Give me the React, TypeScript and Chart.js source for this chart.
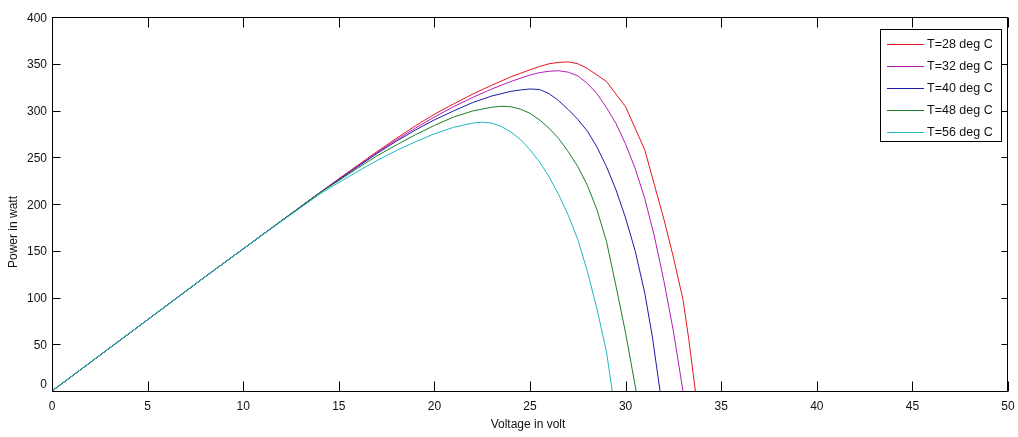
import React, { useEffect, useRef } from "react";
import { Chart, registerables } from "chart.js";

Chart.register(...registerables);

// Axis ticks
const xTicks = [0, 5, 10, 15, 20, 25, 30, 35, 40, 45, 50];
const yTicks = [0, 50, 100, 150, 200, 250, 300, 350, 400];

// P-V curves (voltage in volt, power in watt) for each cell temperature
const vT28 = [0, 2, 4, 6, 8, 10, 12, 13, 14, 15, 16, 17, 18, 19, 20, 21, 22, 23, 24, 25, 25.5, 26, 26.5, 27, 27.5, 28, 29, 30, 31, 31.5, 32, 32.5, 33, 33.3, 33.65];
const pT28 = [0, 30.5, 61, 91.5, 122, 152, 182, 197, 212, 227, 241.5, 256, 270, 283.5, 296, 307, 317.5, 327, 336, 343.5, 347, 350, 351.5, 352, 350, 345, 331, 304, 258, 221, 184, 143, 98, 56, 0];

const vT32 = [0, 2, 4, 6, 8, 10, 12, 13, 14, 15, 16, 17, 18, 19, 20, 21, 22, 23, 24, 25, 25.5, 26, 26.5, 27, 27.5, 28, 28.5, 29, 29.5, 30, 30.5, 31, 31.5, 32, 32.5, 33];
const pT32 = [0, 30.5, 61, 91.5, 122, 152, 182, 197, 212, 226.5, 241, 255, 268.5, 281, 293, 304, 314, 323, 331, 338, 340.5, 342, 342.5, 341, 337, 329, 318, 303, 286, 264, 238, 206, 166, 118, 64, 0];

const vT40 = [0, 2, 4, 6, 8, 10, 12, 13, 14, 15, 16, 17, 18, 19, 20, 21, 22, 23, 24, 24.5, 25, 25.5, 26, 26.5, 27, 27.5, 28, 28.5, 29, 29.5, 30, 30.5, 31, 31.4, 31.8];
const pT40 = [0, 30.5, 61, 91.5, 122, 152, 182, 197, 212, 226, 240, 254, 267, 279, 290, 299.5, 308.5, 315.5, 320.5, 322, 323, 322.5, 318, 310.5, 301, 290.5, 278, 261, 240, 215, 185, 150, 105, 58, 0];

const vT48 = [0, 2, 4, 6, 8, 10, 12, 13, 14, 15, 16, 17, 18, 19, 20, 21, 22, 23, 23.5, 24, 24.5, 25, 25.5, 26, 26.5, 27, 27.5, 28, 28.5, 29, 29.5, 30, 30.55];
const pT48 = [0, 30.5, 61, 91.5, 122, 152, 182, 197, 212, 225, 238.5, 251.5, 263, 274, 284, 293, 299.5, 303.5, 304.5, 304, 301.5, 297, 290, 281, 270, 256, 240, 220, 194, 160, 112, 62, 0];

const vT56 = [0, 2, 4, 6, 8, 10, 12, 13, 14, 15, 16, 17, 18, 19, 20, 21, 22, 22.5, 23, 23.5, 24, 24.5, 25, 25.5, 26, 26.5, 27, 27.5, 28, 28.5, 29, 29.3];
const pT56 = [0, 30.5, 61, 91.5, 122, 152, 181.5, 196, 210.5, 223, 235, 246.5, 257, 266.5, 275, 282, 286.5, 287.5, 286.5, 283, 277, 269, 258, 245, 229, 210, 188, 162, 128, 88, 42, 0];

const seriesLabels = ["T=28 deg C", "T=32 deg C", "T=40 deg C", "T=48 deg C", "T=56 deg C"];
const seriesColors = ["#e8141c", "#b21db8", "#1c1ca6", "#1d7d2a", "#1fb7c2"];
const seriesVolts = [vT28, vT32, vT40, vT48, vT56];
const seriesPower = [pT28, pT32, pT40, pT48, pT56];

const xTitle = "Voltage in volt";
const yTitle = "Power in watt";

const FONT = "12px 'Liberation Sans', Arial, Helvetica, sans-serif";
const LEGEND_FONT = "12.5px 'Liberation Sans', Arial, Helvetica, sans-serif";

// Boxed axes with inward ticks, labels and an inset legend
const axesPlugin = {
  id: "boxedAxes",
  afterDraw(chart: any) {
    const { ctx, chartArea: a, scales } = chart;
    const xs = scales.x;
    const ys = scales.y;
    const L = Math.round(a.left) + 0.5;
    const R = Math.round(a.right) - 0.5;
    const T = Math.round(a.top) + 0.5;
    const B = Math.round(a.bottom) + 0.5;

    ctx.save();
    ctx.strokeStyle = "#000";
    ctx.lineWidth = 1;
    ctx.beginPath();
    ctx.rect(L, T, R - L, B - T);
    ctx.stroke();

    ctx.beginPath();
    for (const v of xTicks) {
      const px = Math.round(xs.getPixelForValue(v)) + 0.5;
      ctx.moveTo(px, B);
      ctx.lineTo(px, B - 10);
      ctx.moveTo(px, T);
      ctx.lineTo(px, T + 10);
    }
    for (const v of yTicks) {
      const py = Math.round(ys.getPixelForValue(v)) + 0.5;
      ctx.moveTo(L, py);
      ctx.lineTo(L + 8, py);
      ctx.moveTo(R, py);
      ctx.lineTo(R - 6, py);
    }
    ctx.stroke();

    ctx.fillStyle = "#111";
    ctx.font = FONT;
    ctx.textBaseline = "alphabetic";

    ctx.textAlign = "center";
    for (const v of xTicks) {
      ctx.fillText(String(v), xs.getPixelForValue(v), a.bottom + 18.5);
    }

    ctx.textAlign = "right";
    for (const v of yTicks) {
      const py = ys.getPixelForValue(v);
      const base = v === 0 ? py - 3 : py + 4.5;
      ctx.fillText(String(v), a.left - 5, base);
    }

    ctx.textAlign = "center";
    ctx.fillText(xTitle, (a.left + a.right) / 2 - 2, a.bottom + 37);

    ctx.save();
    ctx.translate(17, (a.top + a.bottom) / 2 + 28);
    ctx.rotate(-Math.PI / 2);
    ctx.textAlign = "center";
    ctx.fillText(yTitle, 0, 0);
    ctx.restore();

    // Legend
    const lx = 880.5;
    const ly = 29.5;
    const lw = 121;
    const lh = 112;
    ctx.fillStyle = "#fff";
    ctx.fillRect(lx, ly, lw, lh);
    ctx.strokeStyle = "#000";
    ctx.strokeRect(lx, ly, lw, lh);
    ctx.font = LEGEND_FONT;
    ctx.textAlign = "left";
    seriesLabels.forEach((label, i) => {
      const ry = 43.5 + i * 22;
      ctx.strokeStyle = seriesColors[i];
      ctx.beginPath();
      ctx.moveTo(887, Math.round(ry) + 0.5);
      ctx.lineTo(924, Math.round(ry) + 0.5);
      ctx.stroke();
      ctx.fillStyle = "#111";
      ctx.fillText(label, 927, ry + 4.5);
    });
    ctx.restore();
  },
};

export default function App() {
  const canvasRef = useRef<HTMLCanvasElement | null>(null);

  useEffect(() => {
    const canvas = canvasRef.current;
    if (!canvas) return;
    const datasets = seriesLabels.map((label, i) => ({
      label,
      data: seriesVolts[i].map((v, j) => ({ x: v, y: seriesPower[i][j] })),
      borderColor: seriesColors[i],
      backgroundColor: seriesColors[i],
      borderWidth: 1,
      pointRadius: 0,
      tension: 0,
      fill: false,
      order: seriesLabels.length - 1 - i,
    }));

    const chart = new Chart(canvas, {
      type: "line",
      data: { datasets },
      options: {
        responsive: false,
        animation: false,
        devicePixelRatio: 1,
        layout: { padding: { left: 52, right: 10, top: 17, bottom: 46 } },
        scales: {
          x: { type: "linear", min: 0, max: 50, display: false },
          y: { type: "linear", min: 0, max: 400, display: false },
        },
        plugins: {
          legend: { display: false },
          tooltip: { enabled: false },
        },
      },
      plugins: [axesPlugin],
    });
    return () => chart.destroy();
  }, []);

  return (
    <div style={{ position: "fixed", left: 0, top: 0, width: 1018, height: 437, background: "#fff" }}>
      <canvas ref={canvasRef} width={1018} height={437} />
    </div>
  );
}
